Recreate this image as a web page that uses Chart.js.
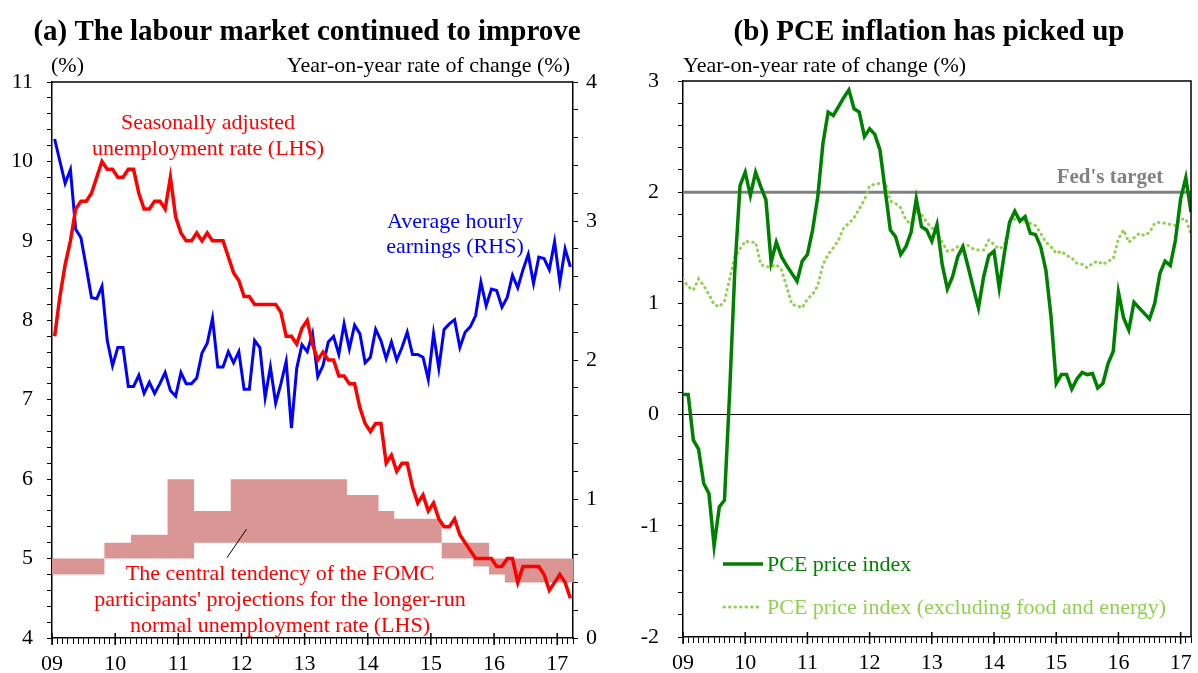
<!DOCTYPE html>
<html>
<head>
<meta charset="utf-8">
<script src="https://cdn.jsdelivr.net/npm/chart.js@4.4.1/dist/chart.umd.min.js"></script>
<style>
  html, body { margin: 0; padding: 0; background: #fff; }
  #wrap { position: relative; width: 1198px; height: 673px; overflow: hidden; }
  #chartA { position: absolute; left: 0; top: 0; }
  #chartB { position: absolute; left: 610px; top: 0; }
</style>
</head>
<body>
<div id="wrap">
  <canvas id="chartA" width="610" height="673"></canvas>
  <canvas id="chartB" width="588" height="673"></canvas>
</div>
<script>
// Panel (a): monthly, Jan 2009 - Mar 2017
const unemployment = [
  7.8, 8.3, 8.7, 9.0, 9.4, 9.5, 9.5, 9.6, 9.8, 10.0, 9.9, 9.9,
  9.8, 9.8, 9.9, 9.9, 9.6, 9.4, 9.4, 9.5, 9.5, 9.4, 9.8, 9.3,
  9.1, 9.0, 9.0, 9.1, 9.0, 9.1, 9.0, 9.0, 9.0, 8.8, 8.6, 8.5,
  8.3, 8.3, 8.2, 8.2, 8.2, 8.2, 8.2, 8.1, 7.8, 7.8, 7.7, 7.9,
  8.0, 7.7, 7.5, 7.6, 7.5, 7.5, 7.3, 7.3, 7.2, 7.2, 6.9, 6.7,
  6.6, 6.7, 6.7, 6.2, 6.3, 6.1, 6.2, 6.2, 5.9, 5.7, 5.8, 5.6,
  5.7, 5.5, 5.4, 5.4, 5.5, 5.3, 5.2, 5.1, 5.0, 5.0, 5.0, 5.0,
  4.9, 4.9, 5.0, 5.0, 4.7, 4.9, 4.9, 4.9, 4.9, 4.8, 4.6, 4.7,
  4.8, 4.7, 4.5
];
const hourlyEarnings = [
  3.59, 3.43, 3.27, 3.37, 2.94, 2.88, 2.67, 2.45, 2.44, 2.53, 2.14, 1.96,
  2.09, 2.09, 1.81, 1.81, 1.89, 1.76, 1.84, 1.76, 1.83, 1.91, 1.78, 1.74,
  1.91, 1.83, 1.83, 1.87, 2.05, 2.12, 2.30, 1.95, 1.95, 2.06, 1.98, 2.06,
  1.79, 1.79, 2.14, 2.09, 1.73, 1.95, 1.69, 1.83, 1.99, 1.51, 1.94, 2.11,
  2.06, 2.19, 1.88, 1.96, 2.13, 2.17, 2.04, 2.26, 2.08, 2.25, 2.19, 1.98,
  2.02, 2.22, 2.14, 2.01, 2.13, 2.00, 2.09, 2.20, 2.04, 2.04, 2.02, 1.86,
  2.19, 1.94, 2.22, 2.26, 2.29, 2.09, 2.20, 2.24, 2.32, 2.56, 2.39, 2.51,
  2.50, 2.38, 2.45, 2.61, 2.52, 2.65, 2.76, 2.55, 2.74, 2.73, 2.65, 2.85,
  2.56, 2.80, 2.67
];
// FOMC central tendency, longer-run unemployment rate (each value holds until the next date)
const fomcDates = [2009.0, 2009.83, 2010.25, 2010.83, 2011.25, 2011.83, 2013.67,
  2014.17, 2014.42, 2015.17, 2015.67, 2015.92, 2016.17];
const fomcEnd = 2017.25;
const fomcLow  = [4.8, 5.0, 5.0, 5.0, 5.2, 5.2, 5.2, 5.2, 5.2, 5.0, 4.9, 4.8, 4.7];
const fomcHigh = [5.0, 5.2, 5.3, 6.0, 5.6, 6.0, 5.8, 5.6, 5.5, 5.2, 5.2, 5.0, 5.0];

// Panel (b): monthly, Jan 2009 - Mar 2017
const pce = [
  0.18, 0.18, -0.23, -0.31, -0.62, -0.71, -1.18, -0.83, -0.77, 0.20, 1.30, 2.06,
  2.18, 1.97, 2.18, 2.05, 1.93, 1.37, 1.55, 1.42, 1.34, 1.27, 1.20, 1.38,
  1.44, 1.66, 1.96, 2.44, 2.72, 2.69, 2.77, 2.85, 2.92, 2.75, 2.72, 2.50,
  2.57, 2.52, 2.38, 2.02, 1.66, 1.60, 1.44, 1.51, 1.64, 1.94, 1.69, 1.66,
  1.56, 1.71, 1.35, 1.13, 1.24, 1.42, 1.51, 1.33, 1.14, 0.96, 1.24, 1.43,
  1.47, 1.14, 1.45, 1.73, 1.83, 1.74, 1.78, 1.63, 1.62, 1.51, 1.30, 0.88,
  0.28, 0.36, 0.36, 0.23, 0.32, 0.38, 0.36, 0.37, 0.24, 0.28, 0.46, 0.57,
  1.10, 0.87, 0.76, 1.01, 0.96, 0.91, 0.86, 1.00, 1.27, 1.38, 1.34, 1.57,
  1.94, 2.13, 1.82
];
const pceCore = [
  1.22, 1.15, 1.12, 1.22, 1.16, 1.08, 0.99, 0.97, 1.02, 1.22, 1.42, 1.49,
  1.56, 1.55, 1.55, 1.35, 1.33, 1.33, 1.35, 1.30, 1.15, 0.99, 0.98, 0.96,
  1.04, 1.08, 1.16, 1.35, 1.44, 1.50, 1.57, 1.68, 1.72, 1.77, 1.85, 1.93,
  2.06, 2.07, 2.08, 2.09, 1.92, 1.90, 1.86, 1.75, 1.71, 1.84, 1.80, 1.73,
  1.68, 1.64, 1.55, 1.47, 1.48, 1.51, 1.52, 1.52, 1.49, 1.48, 1.48, 1.57,
  1.53, 1.49, 1.52, 1.72, 1.76, 1.75, 1.74, 1.72, 1.70, 1.63, 1.55, 1.51,
  1.45, 1.47, 1.43, 1.41, 1.36, 1.35, 1.32, 1.36, 1.38, 1.35, 1.38, 1.40,
  1.58, 1.66, 1.55, 1.59, 1.63, 1.61, 1.64, 1.72, 1.73, 1.72, 1.71, 1.70,
  1.76, 1.76, 1.62
];
const fedTarget = 2;

const SERIF = '"Liberation Serif", "Times New Roman", serif';
const tickFont = { family: SERIF, size: 22 };
const isWhole = v => Math.abs(v - Math.round(v)) < 1e-6;

function monthPoints(values, offset) {
  return values.map((v, i) => ({ x: 2009 + (i + offset) / 12, y: v }));
}

// flat segments from each date to the next one
function stepPoints(dates, values, end) {
  const pts = [];
  dates.forEach((d, i) => {
    const next = i < dates.length - 1 ? dates[i + 1] : end;
    pts.push({ x: d, y: values[i] }, { x: next, y: values[i] });
  });
  return pts;
}

function xAxis(max, height) {
  return {
    type: 'linear', min: 2009, max: max,
    ticks: {
      stepSize: 1 / 12, autoSkip: false, maxRotation: 0, padding: 7,
      color: '#000', font: tickFont,
      callback: v => isWhole(v) ? String(Math.round(v)).slice(2) : ''
    },
    grid: { drawOnChartArea: false, tickLength: 6, tickColor: '#000' },
    border: { color: '#000', width: 1.5 },
    afterFit: s => { s.height = height; }
  };
}

function yAxis(min, max, pos, width, pad) {
  return {
    type: 'linear', position: pos, min: min, max: max,
    ticks: {
      stepSize: 0.2, autoSkip: false, padding: pad, color: '#000', font: tickFont,
      callback: v => isWhole(v) ? String(Math.round(v)) : ''
    },
    grid: { drawOnChartArea: false, tickLength: 5, tickColor: '#000' },
    border: { color: '#000', width: 1.5 },
    afterFit: s => { s.width = width; }
  };
}

// titles, notes, frame, longer year ticks, hand-made legend
const decorations = {
  id: 'decorations',
  afterDraw(chart, args, opts) {
    const ctx = chart.ctx;
    const area = chart.chartArea;
    const sx = chart.scales.x;
    ctx.save();
    ctx.strokeStyle = '#000';
    ctx.lineWidth = 1.5;
    ctx.beginPath();
    ctx.moveTo(area.left, area.top);
    ctx.lineTo(area.right, area.top);
    if (opts.rightFrame) ctx.lineTo(area.right, area.bottom);
    ctx.stroke();
    for (let yr = Math.ceil(sx.min); yr <= sx.max; yr++) {
      const px = sx.getPixelForValue(yr);
      ctx.beginPath();
      ctx.moveTo(px, area.bottom - 5);
      ctx.lineTo(px, area.bottom + 7);
      ctx.stroke();
    }
    (opts.lines || []).forEach(l => {
      ctx.strokeStyle = l.color;
      ctx.lineWidth = l.width;
      ctx.lineCap = l.cap || 'butt';
      ctx.setLineDash(l.dash || []);
      let a = l.from, b = l.to;
      if (l.data) {
        const sy = chart.scales[l.axis];
        a = [sx.getPixelForValue(a[0]), sy.getPixelForValue(a[1])];
        b = [sx.getPixelForValue(b[0]), sy.getPixelForValue(b[1])];
      }
      ctx.beginPath();
      ctx.moveTo(a[0], a[1]);
      ctx.lineTo(b[0], b[1]);
      ctx.stroke();
    });
    ctx.setLineDash([]);
    ctx.textBaseline = 'alphabetic';
    (opts.texts || []).forEach(t => {
      ctx.font = t.font;
      ctx.fillStyle = t.color || '#000';
      ctx.textAlign = t.align || 'center';
      ctx.fillText(t.text, t.x, t.y);
    });
    ctx.restore();
  }
};

const titleFont = 'bold 29px ' + SERIF;
const noteFont = '22px ' + SERIF;

new Chart(document.getElementById('chartA'), {
  type: 'line',
  data: {
    datasets: [
      { data: monthPoints(unemployment, 0.5), yAxisID: 'y', borderColor: '#ff0000',
        borderWidth: 3.5, pointRadius: 0, tension: 0 },
      { data: monthPoints(hourlyEarnings, 0.5), yAxisID: 'y2', borderColor: '#0000ff',
        borderWidth: 3, pointRadius: 0, tension: 0 },
      { data: stepPoints(fomcDates, fomcLow, fomcEnd), yAxisID: 'y',
        borderWidth: 0, borderColor: 'rgba(0,0,0,0)', pointRadius: 0, fill: false },
      { data: stepPoints(fomcDates, fomcHigh, fomcEnd), yAxisID: 'y',
        borderWidth: 0, borderColor: 'rgba(0,0,0,0)', pointRadius: 0,
        fill: '-1', backgroundColor: '#d99694' }
    ]
  },
  options: {
    responsive: false,
    animation: false,
    layout: { padding: { top: 82, bottom: 0, left: 0, right: 7 } },
    scales: {
      x: xAxis(2017.25, 35),
      y: yAxis(4, 11, 'left', 52, 14),
      y2: yAxis(0, 4, 'right', 30, 8)
    },
    plugins: {
      legend: { display: false },
      tooltip: { enabled: false },
      decorations: {
        rightFrame: false,
        texts: [
          { text: '(a) The labour market continued to improve', x: 307, y: 40, font: titleFont },
          { text: '(%)', x: 51, y: 72, font: noteFont, align: 'left' },
          { text: 'Year-on-year rate of change (%)', x: 570, y: 72, font: noteFont, align: 'right' },
          { text: 'Seasonally adjusted', x: 208, y: 129, font: noteFont, color: '#ff0000' },
          { text: 'unemployment rate (LHS)', x: 208, y: 155, font: noteFont, color: '#ff0000' },
          { text: 'Average hourly', x: 455, y: 228, font: noteFont, color: '#0000ff' },
          { text: 'earnings (RHS)', x: 455, y: 253, font: noteFont, color: '#0000ff' },
          { text: 'The central tendency of the FOMC', x: 280, y: 580, font: noteFont, color: '#ff0000' },
          { text: "participants' projections for the longer-run", x: 280, y: 606, font: noteFont, color: '#ff0000' },
          { text: 'normal unemployment rate (LHS)', x: 280, y: 632, font: noteFont, color: '#ff0000' }
        ],
        lines: [
          { data: true, axis: 'y', from: [2011.77, 5.01], to: [2012.08, 5.37], color: '#000', width: 1 }
        ]
      }
    }
  },
  plugins: [decorations]
});

new Chart(document.getElementById('chartB'), {
  type: 'line',
  data: {
    datasets: [
      { data: monthPoints(pce, 0), borderColor: '#008000', borderWidth: 3.5,
        pointRadius: 0, tension: 0 },
      { data: monthPoints(pceCore, 0), borderColor: '#92d050', borderWidth: 3,
        borderDash: [0.5, 5], borderCapStyle: 'round', pointRadius: 0, tension: 0 },
      { data: [{ x: 2009, y: fedTarget }, { x: 2009 + 98 / 12, y: fedTarget }],
        borderColor: '#808080', borderWidth: 3, pointRadius: 0 }
    ]
  },
  options: {
    responsive: false,
    animation: false,
    layout: { padding: { top: 81, bottom: 0, left: 0, right: 3 } },
    scales: {
      x: xAxis(2009 + 98 / 12, 36),
      y: Object.assign(yAxis(-2, 3, 'left', 73, 19), {
        grid: {
          drawOnChartArea: true, tickLength: 5, tickColor: '#000', lineWidth: 1,
          color: c => Math.abs(c.tick.value) < 1e-6 ? '#000' : 'rgba(0,0,0,0)'
        }
      })
    },
    plugins: {
      legend: { display: false },
      tooltip: { enabled: false },
      decorations: {
        rightFrame: true,
        texts: [
          { text: '(b) PCE inflation has picked up', x: 319, y: 40, font: titleFont },
          { text: 'Year-on-year rate of change (%)', x: 73, y: 72, font: noteFont, align: 'left' },
          { text: "Fed's target", x: 500, y: 183, font: 'bold 21px ' + SERIF, color: '#808080' },
          { text: 'PCE price index', x: 157, y: 571, font: noteFont, color: '#008000', align: 'left' },
          { text: 'PCE price index (excluding food and energy)', x: 157, y: 614, font: noteFont,
            color: '#92d050', align: 'left' }
        ],
        lines: [
          { from: [113, 564], to: [153, 564], color: '#008000', width: 3.5 },
          { from: [114, 607], to: [148, 607], color: '#92d050', width: 3, dash: [0.5, 5], cap: 'round' }
        ]
      }
    }
  },
  plugins: [decorations]
});
</script>
</body>
</html>
